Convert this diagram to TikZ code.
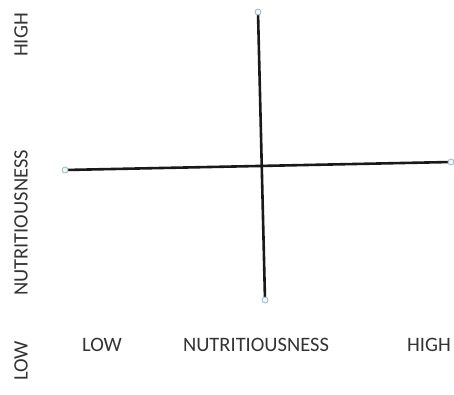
\documentclass[tikz,border=0pt]{standalone}
\usepackage{fontspec}
\setmainfont{Carlito}
\definecolor{txt}{HTML}{333333}
\definecolor{endfill}{HTML}{EEF6FA}
\definecolor{enddraw}{HTML}{9DB8C8}
\begin{document}
\begin{tikzpicture}[x=1pt,y=1pt,
  lbl/.style={font=\fontsize{20.5}{24}\selectfont, text=txt, inner sep=0pt},
  endpt/.style={circle, draw=enddraw, fill=endfill, line width=0.8pt, minimum size=6pt, inner sep=0pt},
  axisline/.style={line width=2.6pt, draw=black!90}]
\useasboundingbox (0,0) rectangle (454,394);
\coordinate (vt) at (258,382);
\coordinate (vb) at (265,94);
\coordinate (hl) at (65,224);
\coordinate (hr) at (451,232);
\draw[axisline] (vt) -- (vb);
\draw[axisline] (hl) -- (hr);
\node[endpt] (nvt) at (vt) {};
\node[endpt] (nvb) at (vb) {};
\node[endpt] (nhl) at (hl) {};
\node[endpt] (nhr) at (hr) {};
\node[lbl, rotate=90] (yhigh) at (21,359) {HIGH};
\node[lbl, rotate=90] (ynut) at (21,171) {NUTRITIOUSNESS};
\node[lbl, rotate=90] (ylow) at (21,33) {LOW};
\node[lbl] (xlow) at (102,49) {LOW};
\node[lbl] (xnut) at (256,49) {NUTRITIOUSNESS};
\node[lbl] (xhigh) at (429,49) {HIGH};
\end{tikzpicture}
\end{document}
